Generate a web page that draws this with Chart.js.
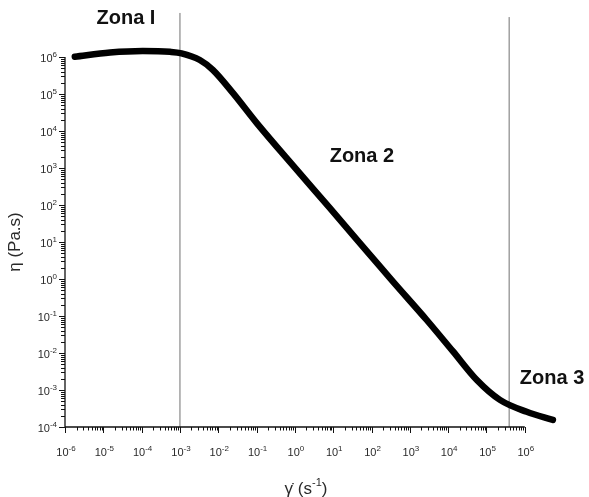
<!DOCTYPE html>
<html>
<head>
<meta charset="utf-8">
<script src="https://cdn.jsdelivr.net/npm/chart.js@4.4.1/dist/chart.umd.min.js"></script>
<style>
  html, body { margin: 0; padding: 0; background: #ffffff; }
  canvas { display: block; }
</style>
</head>
<body>
<canvas id="c" width="589" height="497"></canvas>
<script>
// ---- data ----
const shearRate = [1.8e-6, 1.5e-5, 1.07e-4, 5.5e-4, 1.1e-3, 3.3e-3, 7.2e-3, 0.024, 0.10, 1.12, 8.1, 91, 363, 2750, 1.32e4, 5.6e4, 2.24e5, 1.12e6, 5.4e6];
const viscosity = [1.02e6, 1.32e6, 1.45e6, 1.38e6, 1.26e6, 8.3e5, 4.5e5, 1.07e5, 1.66e4, 890, 83, 4.5, 0.85, 0.078, 0.0112, 1.86e-3, 5.4e-4, 2.57e-4, 1.55e-4];
const xTickValues = [1e-6, 1e-5, 1e-4, 1e-3, 1e-2, 1e-1, 1e0, 1e1, 1e2, 1e3, 1e4, 1e5, 1e6];
const yTickValues = [1e-4, 1e-3, 1e-2, 1e-1, 1e0, 1e1, 1e2, 1e3, 1e4, 1e5, 1e6];
const zoneBoundaries = [1e-3, 3.9e5];
const zoneBoundaryTops = [1.55e7, 1.2e7];
const zoneLabels = ['Zona I', 'Zona 2', 'Zona 3'];
const xTitleParts = ['γ̇ (s', '-1', ')'];
const yTitle = 'η (Pa.s)';

const FONT = '"Liberation Sans", Arial, sans-serif';
const curve = shearRate.map((x, i) => ({ x, y: viscosity[i] }));
const Y_MIN = yTickValues[0];

const boundaryDatasets = zoneBoundaries.map((xv, i) => ({
  data: [{ x: xv, y: Y_MIN }, { x: xv, y: zoneBoundaryTops[i] }],
  borderColor: '#707070',
  borderWidth: 1,
  pointRadius: 0,
  tension: 0,
  clip: false,
  order: 2
}));

function drawPow(ctx, v, x, y, align) {
  const e = String(Math.round(Math.log10(v)));
  ctx.font = '11px ' + FONT;
  const wb = ctx.measureText('10').width;
  ctx.font = '8px ' + FONT;
  const we = ctx.measureText(e).width;
  const total = wb + we;
  let sx = align === 'center' ? x - total / 2 : x - total;
  ctx.textAlign = 'left';
  ctx.textBaseline = 'alphabetic';
  ctx.font = '11px ' + FONT;
  ctx.fillText('10', sx, y);
  ctx.font = '8px ' + FONT;
  ctx.fillText(e, sx + wb, y - 5);
}

const axesPlugin = {
  id: 'axesPlugin',
  afterDatasetsDraw(chart) {
    const ctx = chart.ctx;
    const xs = chart.scales.x, ys = chart.scales.y;
    const x0 = xs.getPixelForValue(xTickValues[0]);
    const x1 = xs.getPixelForValue(xTickValues[xTickValues.length - 1]);
    const yb = ys.getPixelForValue(yTickValues[0]);
    const yt = ys.getPixelForValue(yTickValues[yTickValues.length - 1]);
    ctx.save();
    ctx.strokeStyle = '#111';
    ctx.lineWidth = 1.3;
    ctx.beginPath();
    ctx.moveTo(x0, yt); ctx.lineTo(x0, yb); ctx.lineTo(x1, yb);
    ctx.stroke();
    ctx.lineWidth = 1;
    ctx.beginPath();
    xTickValues.forEach((v, i) => {
      const px = Math.round(xs.getPixelForValue(v)) + 0.5;
      ctx.moveTo(px, yb); ctx.lineTo(px, yb + 6);
      if (i < xTickValues.length - 1) {
        for (let k = 2; k <= 9; k++) {
          const p = Math.round(xs.getPixelForValue(v * k)) + 0.5;
          ctx.moveTo(p, yb); ctx.lineTo(p, yb + 3.5);
        }
      }
    });
    yTickValues.forEach((v, i) => {
      const py = Math.round(ys.getPixelForValue(v)) + 0.5;
      ctx.moveTo(x0, py); ctx.lineTo(x0 - 6, py);
      if (i < yTickValues.length - 1) {
        for (let k = 2; k <= 9; k++) {
          const p = Math.round(ys.getPixelForValue(v * k)) + 0.5;
          ctx.moveTo(x0, p); ctx.lineTo(x0 - 4, p);
        }
      }
    });
    ctx.stroke();

    ctx.fillStyle = '#2a2a2a';
    xTickValues.forEach(v => drawPow(ctx, v, xs.getPixelForValue(v) + 1, yb + 29, 'center'));
    yTickValues.forEach(v => drawPow(ctx, v, x0 - 8, ys.getPixelForValue(v) + 5, 'right'));

    const cx = (chart.chartArea.left + chart.chartArea.right) / 2 - 6;
    ctx.font = '17px ' + FONT;
    const w0 = ctx.measureText(xTitleParts[0]).width;
    const w2 = ctx.measureText(xTitleParts[2]).width;
    ctx.font = '11px ' + FONT;
    const w1 = ctx.measureText(xTitleParts[1]).width;
    let sx = cx - (w0 + w1 + w2) / 2;
    const by = 494;
    ctx.textAlign = 'left';
    ctx.font = '17px ' + FONT;
    ctx.fillText(xTitleParts[0], sx, by);
    ctx.font = '11px ' + FONT;
    ctx.fillText(xTitleParts[1], sx + w0, by - 8);
    ctx.font = '17px ' + FONT;
    ctx.fillText(xTitleParts[2], sx + w0 + w1, by);

    const labelPos = [[3.9e-5, 1.1e7, 'center'], [56, 2.0e3, 'center'], [7.4e5, 2.1e-3, 'left']];
    ctx.fillStyle = '#111';
    ctx.font = 'bold 20px ' + FONT;
    ctx.textBaseline = 'middle';
    zoneLabels.forEach((t, i) => {
      const [lx, ly, al] = labelPos[i];
      ctx.textAlign = al;
      ctx.fillText(t, xs.getPixelForValue(lx), ys.getPixelForValue(ly));
    });
    ctx.restore();
  }
};

new Chart(document.getElementById('c'), {
  type: 'line',
  data: {
    datasets: [
      {
        data: curve,
        borderColor: '#000',
        borderWidth: 6.5,
        borderCapStyle: 'round',
        borderJoinStyle: 'round',
        pointRadius: 0,
        cubicInterpolationMode: 'monotone',
        clip: false,
        order: 1
      },
      ...boundaryDatasets
    ]
  },
  options: {
    responsive: false,
    animation: false,
    layout: { padding: { top: 57, right: 30, left: 0, bottom: 0 } },
    plugins: { legend: { display: false }, tooltip: { enabled: false } },
    scales: {
      x: {
        type: 'logarithmic',
        min: 1e-6,
        max: 7.8e6,
        afterBuildTicks: s => { s.ticks = xTickValues.map(v => ({ value: v })); },
        afterFit: s => { s.height = 70; },
        grid: { display: false },
        border: { display: false },
        ticks: { display: false },
        title: { display: false }
      },
      y: {
        type: 'logarithmic',
        min: 1e-4,
        max: 1e6,
        afterBuildTicks: s => { s.ticks = yTickValues.map(v => ({ value: v })); },
        afterFit: s => { s.width = 65; },
        grid: { display: false },
        border: { display: false },
        ticks: { display: false },
        title: {
          display: true, text: yTitle, color: '#2a2a2a',
          font: { family: FONT, size: 17 },
          padding: { top: 5, bottom: 0 }
        }
      }
    }
  },
  plugins: [axesPlugin]
});
</script>
</body>
</html>
